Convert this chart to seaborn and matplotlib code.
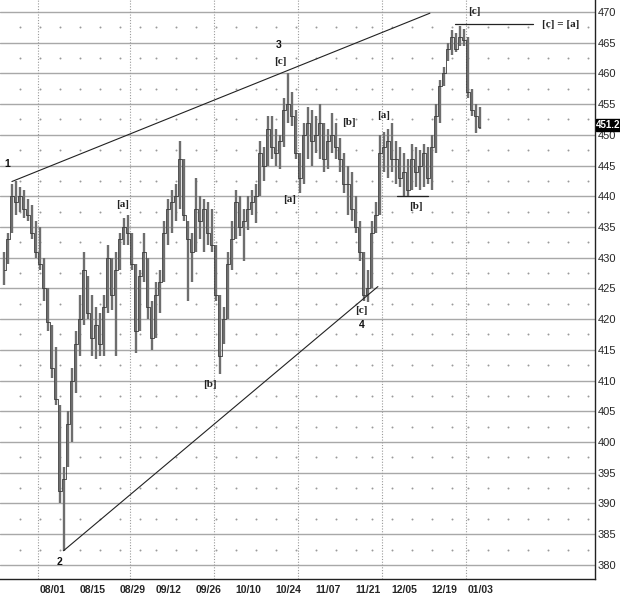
import numpy as np
import pandas as pd
import matplotlib
matplotlib.use("Agg")
import matplotlib.pyplot as plt
import matplotlib.transforms as mtransforms
from matplotlib import font_manager
import seaborn as sns

# daily bars, 19 Jul 2005 .. 6 Jan 2006
highs = [431, 434, 442, 442.5, 441.5, 441, 439.5, 438.5, 436, 435,
         430, 425, 419, 415.5, 406, 396, 405, 412, 418, 424,
         431, 427, 424, 422, 421, 424, 432, 430, 431, 434,
         436.5, 437, 434, 429, 428, 434, 430, 423, 426, 428,
         436, 439.5, 441, 442, 449, 446, 436, 434, 443, 440,
         439.5, 439, 438, 432, 424, 422, 431, 436, 441, 440,
         438, 440, 441, 442, 449, 448, 453, 453, 451, 450,
         456, 460, 457, 454, 447, 452, 454.5, 454, 453, 455,
         452, 451, 453.5, 452, 449.5, 447, 445, 444, 440, 436,
         431, 428, 436, 439, 450, 450.5, 451, 452, 449, 448,
         447, 446, 448.5, 448, 447.5, 448.5, 448, 450, 455, 459,
         461, 465, 467, 466.5, 467.7, 467.2, 466, 457.5, 455, 454.5]
lows = [425.6, 429, 434, 437, 437.5, 436.5, 436, 433, 430, 428,
        423, 418, 410.5, 406, 390, 382.3, 396, 400, 408, 414,
        419, 420, 414, 413.5, 414, 414, 421, 421.5, 414, 428,
        432, 432, 428, 414.5, 418, 426, 420, 415, 417, 421,
        426, 432, 434, 436, 438, 436, 423, 426, 431, 433,
        431, 432, 431, 423, 411, 416, 420, 428, 433, 433.5,
        429.5, 434.5, 437, 435.7, 440, 442.5, 445, 446, 445, 444.5,
        448, 452, 451.5, 446, 440.5, 442, 446, 445, 447, 446,
        444, 444.5, 447, 446, 444, 440.5, 437, 436, 434, 429.5,
        423, 422.8, 425, 434, 437, 444, 443, 444, 442, 441.5,
        440, 440, 441, 441.5, 441, 441.5, 442, 441, 447, 452,
        458, 462, 463, 463.5, 464.5, 464.5, 456, 453, 450.3, 451]
closes = [428, 433, 440, 439, 440, 438, 437, 434, 431, 429,
          425, 419.5, 412, 407, 392, 394, 403, 410, 416, 420,
          428, 421, 417, 419, 416, 422, 430, 424, 428, 433,
          435, 434, 429, 418, 427, 431, 422, 417, 424, 426,
          434, 438, 439, 440, 446, 437, 433, 431, 438, 436,
          438, 434, 432, 424, 414, 420, 429, 433, 439, 435,
          436, 438, 439, 440, 447, 445, 451, 448, 447, 449,
          454, 455, 453, 447, 443, 450, 452, 449, 450, 452,
          446, 449, 450, 448, 446, 442, 442, 438, 435, 431,
          424, 425, 434, 437, 447, 448, 449, 446, 446, 443,
          444, 441, 446, 444, 445, 447, 443, 448, 453, 458,
          460, 464, 466, 464, 466, 465.5, 457, 454, 453, 451.2]
last_price = 451.2

tick_dates = ["2005-08-01", "2005-08-15", "2005-08-29", "2005-09-12",
              "2005-09-26", "2005-10-10", "2005-10-24", "2005-11-07",
              "2005-11-21", "2005-12-05", "2005-12-19", "2006-01-03"]
holidays = ["2005-09-05", "2005-11-24", "2005-12-26", "2006-01-02"]

# wave labels: (text, bar position, price)
wave_labels = [("1", 1.0, 445.3), ("2", 14.1, 380.4), ("[a]", 29.9, 438.6),
               ("[b]", 51.6, 409.3), ("3", 68.9, 464.6), ("[c]", 69.3, 462.0),
               ("[a]", 71.6, 439.4), ("[b]", 86.4, 452.0), ("[a]", 95.1, 453.1),
               ("[c]", 89.4, 421.4), ("4", 89.6, 419.0), ("[b]", 103.1, 438.3),
               ("[c]", 117.6, 470.0), ("[c] = [a]", 139.4, 468.0)]

dates = pd.bdate_range("2005-07-19", periods=len(closes), freq="C",
                       holidays=holidays)
idx = np.arange(len(dates))
df = pd.DataFrame({"pos": idx, "high": highs, "low": lows, "close": closes})

sns.set_style("white")
names = {f.name for f in font_manager.fontManager.ttflist}
narrow = "Liberation Sans Narrow" if "Liberation Sans Narrow" in names else "Liberation Sans"
plt.rcParams["font.family"] = ["Liberation Sans", "DejaVu Sans"]

fig = plt.figure(figsize=(6.2, 5.99), dpi=100)
ax = fig.add_axes([0, 20 / 599, 595 / 620, 579 / 599])

ymin, ymax = 377.7, 471.95
ax.set_xlim(-0.875, 147.875)
ax.set_ylim(ymin, ymax)

# grid: solid price lines, dotted month lines, dots at week starts
levels = np.arange(380, 471, 5)
for lv in levels:
    ax.axhline(lv, color="#a8a8a8", lw=1.0, zorder=1)
month_start = [i for i in idx if i == 0 or dates[i].month != dates[i - 1].month][1:]
for m in month_start:
    ax.axvline(m - 0.35, color="#9a9a9a", lw=0.8, ls=(0, (1, 1.5)), zorder=1)
week_start = [i for i in idx if i > 0 and dates[i].weekday() < dates[i - 1].weekday()]
extra = [week_start[-1] + 5 * k for k in range(1, 7)]
wx, wy = np.meshgrid(week_start + extra, levels[:-1] + 2.5)
sns.scatterplot(x=wx.ravel(), y=wy.ravel(), s=2, color="#9a9a9a",
                linewidth=0, ax=ax, zorder=1)

# price bars
ax.vlines(df["pos"], df["low"], df["high"], color="#6e6e6e", lw=1.7, zorder=2)
sns.lineplot(data=df, x="pos", y="close", drawstyle="steps-mid",
             color="#3a3a3a", lw=0.6, ax=ax, zorder=3)

# trend lines and wave marks
ax.plot([2.1, 106.6], [442.4, 469.8], color="#222222", lw=0.8, zorder=4)
ax.plot([15.0, 93.6], [382.3, 425.3], color="#222222", lw=0.8, zorder=4)
ax.plot([98.4, 106.1], [440.1, 440.1], color="#222222", lw=0.9, zorder=4)
ax.plot([112.9, 132.4], [468.0, 468.0], color="#222222", lw=0.9, zorder=4)
for txt, xp, yp in wave_labels:
    if txt[0].isdigit():
        ax.text(xp, yp, txt, fontsize=7.5, fontweight="bold", ha="center",
                va="center", color="#111111", zorder=5)
    else:
        ax.text(xp, yp, txt, fontsize=8, fontweight="bold", family="Liberation Serif",
                ha="center", va="center", color="#222222", zorder=5)

# axes
sns.despine(ax=ax, left=True, top=True, right=False, bottom=False)
for s in ("right", "bottom"):
    ax.spines[s].set_color("#222222")
    ax.spines[s].set_linewidth(1.0)
ax.yaxis.tick_right()
ax.set_yticks(levels)
ax.set_yticklabels([str(v) for v in levels], fontsize=8, family=narrow)
ax.tick_params(axis="y", length=0, pad=2)

tick_pos = dates.get_indexer(pd.to_datetime(tick_dates))
ax.set_xticks(tick_pos)
ax.set_xticklabels([pd.Timestamp(d).strftime("%m/%d") for d in tick_dates],
                   fontsize=7.5, fontweight="bold", family=narrow, ha="left")
ax.tick_params(axis="x", length=3, width=0.8, color="#222222", pad=1)
ax.set_xlabel("")
ax.set_ylabel("")

# last price flag on the right axis
trans = mtransforms.blended_transform_factory(ax.transAxes, ax.transData)
ax.text(1.002, last_price + 0.4, f"{last_price:.1f}", transform=trans, fontsize=7,
        fontweight="bold", family=narrow, color="white", va="center", ha="left",
        bbox=dict(boxstyle="square,pad=0.06", fc="black", ec="black"), zorder=6)

fig.savefig("out.png", dpi=100)
